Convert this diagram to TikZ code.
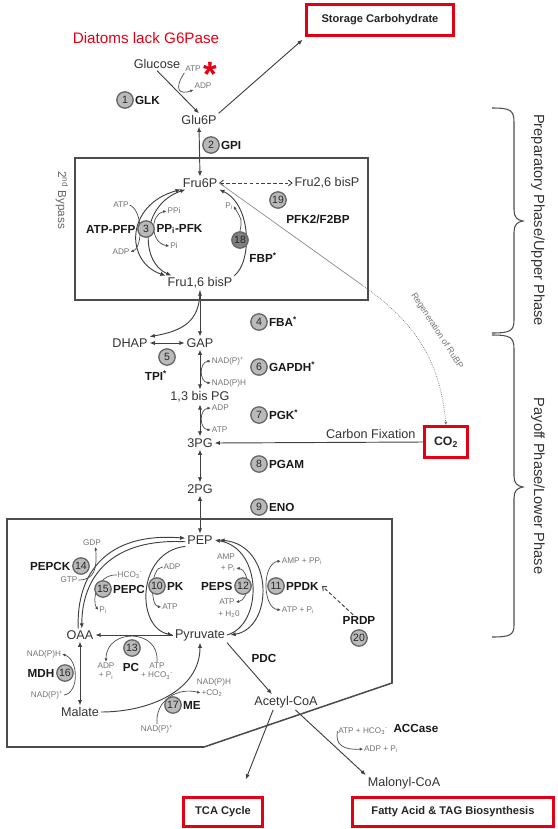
\documentclass[tikz,border=0pt]{standalone}
\usepackage{fontspec}
\setmainfont{Liberation Sans}
\usetikzlibrary{arrows.meta,positioning,backgrounds}
\definecolor{boxred}{RGB}{228,0,20}
\tikzset{
  met/.style={inner sep=1.5pt,text=black!80,font=\fontsize{10.8}{12}\selectfont},
  cof/.style={inner sep=0.6pt,text=black!55,font=\fontsize{7}{8}\selectfont},
  enz/.style={inner sep=0.8pt,text=black!90,font=\bfseries\fontsize{10}{12}\selectfont},
  nr/.style={circle,draw=black!60,fill=black!27,line width=1.1pt,inner sep=0pt,
    minimum size=14pt,text=black!85,font=\fontsize{9}{9}\selectfont},
  redbox/.style={draw=boxred,line width=2.6pt,inner sep=0pt,text=black!85,
    font=\bfseries\fontsize{9.5}{11}\selectfont},
  arr/.style={draw=black!75,line width=0.8pt,-{Latex[length=4.5pt,width=3.6pt]}},
  arr2/.style={arr,{Latex[length=4.5pt,width=3.6pt]}-{Latex[length=4.5pt,width=3.6pt]}},
  cofarr/.style={draw=black!70,line width=0.6pt,-{Latex[length=3pt,width=2.6pt]}},
  cofarr2/.style={cofarr,{Latex[length=3pt,width=2.6pt]}-{Latex[length=3pt,width=2.6pt]}},
  dasharr/.style={draw=black!75,line width=0.8pt,dash pattern=on 3pt off 2pt,
    -{Straight Barb[length=3pt,width=5pt]}},
  panel/.style={draw=black!70,line width=1.3pt},
  brk/.style={draw=black!70,line width=0.9pt},
}

\begin{document}
\begin{tikzpicture}[x=0.03cm,y=-0.03cm]
  \useasboundingbox (0,0) rectangle (558,829);

  % frames
  \draw[panel] (75,158) rectangle (368,300);
  \draw[panel] (7,519) -- (392,519) -- (392,683) -- (204,747) -- (7,747) -- cycle;

  % upper part
  \node[text=boxred,font=\fontsize{13}{15}\selectfont] (lack) at (146,38) {Diatoms lack G6Pase};
  \node[redbox,minimum width=125pt,minimum height=27pt] (store) at (380,20) {Storage Carbohydrate};
  \node[met] (glc) at (157,64) {Glucose};
  \node[cof] (atp0) at (193,69) {ATP};
  \node[text=boxred,inner sep=0pt,font=\bfseries\fontsize{30}{30}\selectfont] (star) at (210,74) {*};
  \node[cof] (adp0) at (203,86) {ADP};
  \node[nr] (n1) at (125,100) {1};
  \node[enz,right=0pt of n1] (glk) {GLK};
  \node[met] (g6p) at (199,120) {Glu6P};
  \node[nr] (n2) at (211,145) {2};
  \node[enz,right=0pt of n2] (gpi) {GPI};

  \node[met,text=black!60,rotate=-90,font=\fontsize{10}{12}\selectfont] (bypass) at (62,200) {2\textsuperscript{nd} Bypass};
  \node[met] (f6p) at (200,183) {Fru6P};
  \node[met] (f26) at (327,183) {Fru2,6 bisP};
  \node[nr] (n19) at (278,200) {19};
  \node[enz] (pfk2) at (318,219) {PFK2/F2BP};
  \node[nr] (n3) at (146,229) {3};
  \node[enz,left=0.5pt of n3] (atppfp) {ATP-PFP};
  \node[enz,right=0.5pt of n3] (ppipfk) {PP\textsubscript{i}-PFK};
  \node[cof] (atp3) at (121,205) {ATP};
  \node[cof] (adp3) at (121,252) {ADP};
  \node[cof] (ppi3) at (174,211) {PPi};
  \node[cof] (pi3) at (174,246) {Pi};
  \node[met] (f16) at (200,283) {Fru1,6 bisP};
  \node[nr,fill=black!50] (n18) at (240,240) {18};
  \node[enz] (fbp) at (263,258) {FBP\textsuperscript{*}};
  \node[cof] (pi18) at (229,206) {P\textsubscript{i}};
  \node[cof,rotate=-57,font=\fontsize{7.5}{9}\selectfont] (regen) at (437,331) {Regeneration of RuBP};

  % payoff part
  \node[nr] (n4) at (259,322) {4};
  \node[enz,right=0pt of n4] (fba) {FBA\textsuperscript{*}};
  \node[met] (dhap) at (130,343) {DHAP};
  \node[met] (gap) at (200,343) {GAP};
  \node[nr] (n5) at (167,357) {5};
  \node[enz] (tpi) at (156,376) {TPI\textsuperscript{*}};
  \node[nr] (n6) at (259,367) {6};
  \node[enz,right=0pt of n6] (gapdh) {GAPDH\textsuperscript{*}};
  \node[cof,anchor=west] (nadp6) at (211,361) {NAD(P)\textsuperscript{+}};
  \node[cof,anchor=west] (nadph6) at (211,383) {NAD(P)H};
  \node[met] (bpg) at (200,397) {1,3 bis PG};
  \node[cof,anchor=west] (adp7) at (211,408) {ADP};
  \node[cof,anchor=west] (atp7) at (211,430) {ATP};
  \node[nr] (n7) at (259,415) {7};
  \node[enz,right=0pt of n7] (pgk) {PGK\textsuperscript{*}};
  \node[met] (pg3) at (200,443) {3PG};
  \node[redbox,minimum width=37pt,minimum height=26pt,font=\bfseries\fontsize{10.5}{12}\selectfont] (co2) at (446,442) {CO\textsubscript{2}};
  \node[nr] (n8) at (259,464) {8};
  \node[enz,right=0pt of n8] (pgam) {PGAM};
  \node[met] (pg2) at (200,489) {2PG};
  \node[nr] (n9) at (259,507) {9};
  \node[enz,right=0pt of n9] (eno) {ENO};

  % lower box
  \node[met] (pep) at (200,540) {PEP};
  \node[met] (pyr) at (200,635) {Pyruvate};
  \node[met] (oaa) at (80,635) {OAA};
  \node[met] (mal) at (80,712) {Malate};
  \node[met] (acoa) at (286,702) {Acetyl-CoA};
  \node[met] (mcoa) at (404,783) {Malonyl-CoA};
  \node[redbox,minimum width=67pt,minimum height=25pt] (tca) at (223,812) {TCA Cycle};
  \node[redbox,minimum width=172pt,minimum height=25pt] (fatty) at (453,812) {Fatty Acid \& TAG Biosynthesis};

  \node[nr] (n10) at (157,586) {10};
  \node[enz,right=0pt of n10] (pk) {PK};
  \node[nr] (n12) at (243,586) {12};
  \node[enz,left=0.5pt of n12] (peps) {PEPS};
  \node[nr] (n11) at (276,586) {11};
  \node[enz,right=0pt of n11] (ppdk) {PPDK};
  \node[nr] (n14) at (81,566) {14};
  \node[enz,left=0.5pt of n14] (pepck) {PEPCK};
  \node[nr] (n15) at (103,589) {15};
  \node[enz,right=0pt of n15] (pepc) {PEPC};
  \node[nr] (n13) at (132,648) {13};
  \node[enz] (pc) at (131,667) {PC};
  \node[nr] (n16) at (65,673) {16};
  \node[enz,left=0.5pt of n16] (mdh) {MDH};
  \node[nr] (n17) at (173,705) {17};
  \node[enz,right=0pt of n17] (me) {ME};
  \node[enz] (pdc) at (264,658) {PDC};
  \node[enz] (prdp) at (359,620) {PRDP};
  \node[nr] (n20) at (359,638) {20};
  \node[enz] (accase) at (416,728) {ACCase};

  \node[cof] (gdp14) at (92,543) {GDP};
  \node[cof] (gtp14) at (69,580) {GTP};
  \node[cof] (hco15) at (130,575) {HCO\textsubscript{3}\textsuperscript{-}};
  \node[cof] (pi15) at (103,610) {P\textsubscript{i}};
  \node[cof] (adp10) at (172,567) {ADP};
  \node[cof] (atp10) at (170,607) {ATP};
  \node[cof] (amp12) at (226,557) {AMP};
  \node[cof] (pi12) at (228,568) {+ P\textsubscript{i}};
  \node[cof] (atp12) at (227,602) {ATP};
  \node[cof] (h2o12) at (229,614) {+ H\textsubscript{2}0};
  \node[cof,anchor=west] (amp11) at (281,561) {AMP + PP\textsubscript{i}};
  \node[cof,anchor=west] (atp11) at (281,610) {ATP + P\textsubscript{i}};
  \node[cof,align=center] (adp13) at (106,671) {ADP\\+ P\textsubscript{i}};
  \node[cof,align=center] (atp13) at (157,671) {ATP\\+ HCO\textsubscript{3}\textsuperscript{-}};
  \node[cof] (nadh16) at (44,654) {NAD(P)H};
  \node[cof] (nad16) at (47,695) {NAD(P)\textsuperscript{+}};
  \node[cof] (nadh17) at (214,682) {NAD(P)H};
  \node[cof] (co217) at (212,693) {+CO\textsubscript{2}};
  \node[cof] (nad17) at (157,729) {NAD(P)\textsuperscript{+}};
  \node[cof] (atp21) at (363,731) {ATP + HCO\textsubscript{3}\textsuperscript{-}};
  \node[cof] (adp21) at (381,749) {ADP + P\textsubscript{i}};

  % phases
  \node[met,text=black!80,rotate=-90,font=\fontsize{12.5}{14}\selectfont] (upper) at (538,220) {Preparatory Phase/Upper Phase};
  \node[met,text=black!80,rotate=-90,font=\fontsize{12.5}{14}\selectfont] (lower) at (538,486) {Payoff Phase/Lower Phase};
  \draw[brk] (492,108) .. controls (510,108) and (514,110) .. (514,122) -- (514,210)
    .. controls (514,217) and (517,220) .. (523,221) .. controls (517,222) and (514,225) .. (514,232)
    -- (514,320) .. controls (514,331) and (510,333) .. (492,333);
  \draw[brk] (492,335) .. controls (510,335) and (514,337) .. (514,349) -- (514,476)
    .. controls (514,483) and (517,486) .. (523,487) .. controls (517,488) and (514,491) .. (514,498)
    -- (514,625) .. controls (514,635) and (510,637) .. (492,637);

  \begin{scope}[on background layer]
    % upper connectors
    \draw[arr] (glc.south) -- (g6p.north);
    \draw[cofarr] (atp0.south west) .. controls (173,90) and (180,95) .. (adp0.south west);
    \draw[arr,shorten >=3pt] (g6p.north east) -- (store.south west);
    \draw[arr2] (g6p.south) -- (f6p.north);
    \draw[dasharr,{Straight Barb[length=3pt,width=5pt]}-{Straight Barb[length=3pt,width=5pt]}] (f6p.east) -- (f26.west);
    \draw[arr2] (f16.north west) .. controls (125,262) and (125,205) .. (f6p.south west);
    \draw[arr2] ([xshift=5pt]f16.north west) .. controls (140,262) and (140,205) .. ([xshift=4pt]f6p.south west);
    \draw[cofarr] (atp3.east) .. controls (143,210) and (143,247) .. (adp3.east);
    \draw[cofarr2] (ppi3.west) .. controls (150,214) and (150,243) .. (pi3.west);
    \draw[arr] (f16.north east) .. controls (252,262) and (252,205) .. (f6p.south east);
    \draw[cofarr] (n18.north) .. controls (242,220) .. (pi18.east);
    \coordinate (bend) at (362,285);
    \draw[draw=black!45,line width=0.6pt] (f6p.east) -- (bend);
    \draw[cofarr,draw=black!55,densely dotted] (bend) .. controls (415,322) and (440,360) .. (co2.north);
    % payoff connectors
    \draw[arr2] (f16.south) -- (gap.north);
    \draw[arr] (f16.south) .. controls (200,322) and (182,331) .. (dhap.north east);
    \draw[arr2] (dhap.east) -- (gap.west);
    \draw[arr2] (gap.south) -- (bpg.north);
    \draw[cofarr2] (nadp6.west) .. controls (199,362) and (199,382) .. (nadph6.west);
    \draw[arr2] (bpg.south) -- (pg3.north);
    \draw[cofarr2] (adp7.west) .. controls (199,409) and (199,429) .. (atp7.west);
    \draw[arr] (co2.west) -- node[met,pos=0.25,above=1pt] (cfix) {Carbon Fixation} (pg3.east);
    \draw[arr2] (pg3.south) -- (pg2.north);
    \draw[arr2] (pg2.south) -- (pep.north);
    % lower connectors
    \draw[arr] (pep.south west) .. controls (136,552) and (136,628) .. (pyr.west);
    \draw[arr] (pyr.east) .. controls (263,625) and (263,548) .. (pep.east);
    \draw[arr2] ([xshift=3pt]pyr.east) .. controls (274,628) and (274,545) .. ([xshift=4pt]pep.east);
    \draw[arr] (pyr.west) -- (oaa.east);
    \draw[arr] ([xshift=-1.5pt]oaa.north) .. controls (76,572) and (108,532) .. ([yshift=1.5pt]pep.west);
    \draw[arr] ([yshift=-1.5pt]pep.west) .. controls (112,538) and (82,576) .. ([xshift=1.5pt]oaa.north);
    \draw[cofarr] (gtp14.east) .. controls (95,580) and (97,568) .. ([xshift=3pt]gdp14.south);
    \draw[cofarr] (hco15.west) .. controls (96,574) and (92,602) .. (pi15.west);
    \draw[cofarr] (adp10.west) .. controls (150,567) and (150,606) .. (atp10.west);
    \draw[cofarr2] (atp12.east) .. controls (250,600) and (250,570) .. (pi12.east);
    \draw[cofarr2] (atp11.west) .. controls (262,608) and (262,563) .. (amp11.west);
    \draw[dasharr] ([xshift=-5pt]prdp.north) -- ([xshift=2pt]ppdk.east);
    \draw[cofarr] (atp13.north) .. controls (160,628) and (106,628) .. (adp13.north);
    \draw[arr2] (oaa.south) -- (mal.north);
    \draw[cofarr] (nad16.east) .. controls (79,693) and (79,660) .. (nadh16.east);
    \draw[arr] (mal.east) .. controls (150,712) and (200,690) .. (pyr.south);
    \draw[cofarr] (nad17.north) .. controls (155,700) and (178,687) .. (co217.west);
    \draw[arr] (pyr.south east) -- ([xshift=-12pt]acoa.north);
    \draw[arr,shorten >=15pt] ([xshift=-11pt]acoa.south) -- ([xshift=14pt]tca.north);
    \draw[arr] ([xshift=8pt]acoa.south) -- (mcoa.north west);
    \draw[cofarr] (atp21.west) .. controls (335,745) and (343,750) .. (adp21.west);
  \end{scope}
\end{tikzpicture}
\end{document}
